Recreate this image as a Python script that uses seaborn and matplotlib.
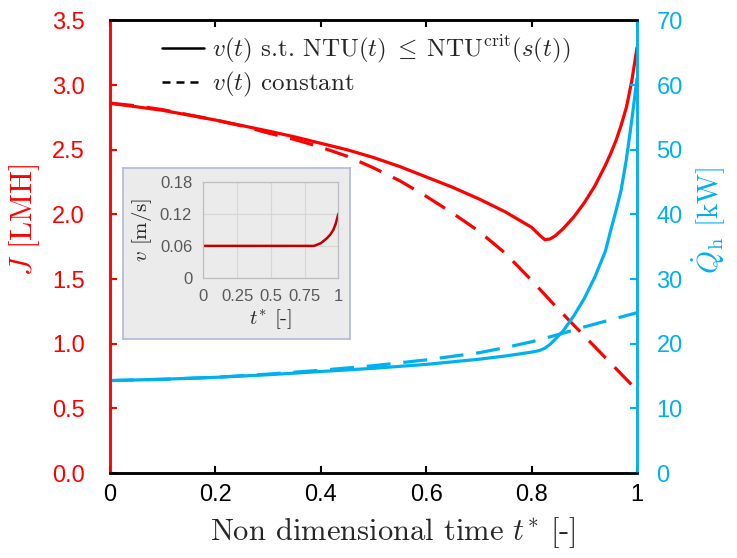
import numpy as np
import seaborn as sns
from matplotlib import pyplot as plt
from matplotlib.lines import Line2D

# データ
t_ctrl = [0, 0.1, 0.2, 0.3, 0.35, 0.4, 0.45, 0.5, 0.55, 0.6, 0.65, 0.7, 0.75, 0.8,
          0.815, 0.825, 0.835, 0.845, 0.86, 0.88, 0.9, 0.92, 0.94, 0.95, 0.96, 0.97,
          0.98, 0.99, 1.0]
J_ctrl = [2.86, 2.805, 2.73, 2.645, 2.60, 2.55, 2.50, 2.44, 2.37, 2.29, 2.21, 2.12, 2.02, 1.90,
          1.84, 1.805, 1.81, 1.835, 1.89, 1.98, 2.09, 2.22, 2.38, 2.47, 2.57, 2.69,
          2.83, 3.03, 3.29]
Q_ctrl = [14.3, 14.5, 14.8, 15.2, 15.45, 15.7, 15.95, 16.2, 16.5, 16.8, 17.2, 17.6, 18.1, 18.7,
          18.95, 19.3, 19.9, 20.7, 22.0, 24.3, 27.0, 30.3, 34.3, 37.5, 40.5, 43.8,
          48.6, 54.5, 61.0]

t_const = [0, 0.05, 0.1, 0.15, 0.2, 0.25, 0.3, 0.35, 0.4, 0.45, 0.5, 0.55, 0.6, 0.65,
           0.7, 0.75, 0.8, 0.85, 0.9, 0.95, 1.0]
J_const = [2.86, 2.84, 2.81, 2.77, 2.73, 2.685, 2.63, 2.58, 2.52, 2.45, 2.36, 2.26, 2.14, 2.01,
           1.87, 1.70, 1.49, 1.27, 1.06, 0.85, 0.64]
Q_const = [14.3, 14.4, 14.5, 14.65, 14.8, 15.05, 15.3, 15.6, 15.9, 16.25, 16.6, 17.05, 17.5, 18.05,
           18.6, 19.4, 20.3, 21.4, 22.6, 23.7, 24.8]

t_v = [0, 0.82, 0.87, 0.914, 0.94, 0.963, 0.98, 1.0]
v_val = [0.06, 0.06, 0.065, 0.074, 0.081, 0.09, 0.101, 0.12]

x_ticks = [0, 0.2, 0.4, 0.6, 0.8, 1.0]
x_labels = ['0', '0.2', '0.4', '0.6', '0.8', '1']
J_ticks = [0, 0.5, 1.0, 1.5, 2.0, 2.5, 3.0, 3.5]
Q_ticks = [0, 10, 20, 30, 40, 50, 60, 70]
ins_xticks = [0, 0.25, 0.5, 0.75, 1.0]
ins_xlabels = ['0', '0.25', '0.5', '0.75', '1']
ins_yticks = [0, 0.06, 0.12, 0.18]
ins_ylabels = ['0', '0.06', '0.12', '0.18']

RED = '#ff0000'
BLUE = '#00b0f0'
DARKRED = '#c00000'

sns.set_style('ticks')
plt.rcParams['font.family'] = ['Liberation Sans', 'DejaVu Sans']
plt.rcParams['mathtext.fontset'] = 'cm'
plt.rcParams['axes.unicode_minus'] = False

fig = plt.figure(figsize=(7.37, 5.58), dpi=100)
ax = fig.add_axes([0.1493, 0.1523, 0.715, 0.811])
ax2 = ax.twinx()

# 主グラフ
sns.lineplot(x=t_ctrl, y=J_ctrl, ax=ax, color=RED, lw=2.3)
sns.lineplot(x=t_const, y=J_const, ax=ax, color=RED, lw=2.3, linestyle='--')
ax.lines[-1].set_dashes((7.5, 4))
sns.lineplot(x=t_ctrl, y=Q_ctrl, ax=ax2, color=BLUE, lw=2.3)
sns.lineplot(x=t_const, y=Q_const, ax=ax2, color=BLUE, lw=2.3, linestyle='--')
ax2.lines[-1].set_dashes((7.5, 4))

ax.set_xlim(0, 1)
ax.set_ylim(0, 3.5)
ax2.set_ylim(0, 70)
ax.set_xticks(x_ticks, x_labels)
ax.set_yticks(J_ticks, [f'{v:.1f}' for v in J_ticks])
ax2.set_yticks(Q_ticks, [str(v) for v in Q_ticks])

ax.tick_params(axis='x', top=True, bottom=True, direction='in', length=5, width=1.5,
               colors='black', labelsize=17, pad=8)
ax.tick_params(axis='y', left=True, direction='in', length=5, width=1.5,
               colors=RED, labelsize=17, pad=18)
ax2.tick_params(axis='y', right=True, direction='in', length=5, width=1.5,
                colors=BLUE, labelsize=17, pad=14)

for a in (ax, ax2):
    a.spines['top'].set_color('black')
    a.spines['bottom'].set_color('black')
    a.spines['left'].set_color(RED)
    a.spines['right'].set_color(BLUE)
    for s in a.spines.values():
        s.set_linewidth(1.8)

ax.set_xlabel('Non dimensional time $t^{*}$ [-]', family='cmr10', fontsize=22)
ax.xaxis.set_label_coords(0.536, -0.093)
ax.set_ylabel('$J$ [LMH]', family='cmr10', fontsize=22, color=RED)
ax.yaxis.set_label_coords(-0.129, 0.559)
ax2.set_ylabel(r'$\dot{Q}_{\mathrm{h}}$ [kW]', family='cmr10', fontsize=21, color=BLUE)
ax2.yaxis.set_label_coords(1.099, 0.559)

# 凡例
handles = [Line2D([], [], color='black', lw=1.8),
           Line2D([], [], color='black', lw=1.8, dashes=(3.2, 2.4))]
labels = [r'$v(t)$ s.t. $\mathrm{NTU}(t)\;\leq\;\mathrm{NTU}^{\mathrm{crit}}(s(t))$',
          r'$v(t)$ constant']
ax2.legend(handles, labels, loc='upper left', bbox_to_anchor=(0.22, 0.94),
           bbox_transform=fig.transFigure, frameon=False,
           prop={'family': 'cmr10', 'size': 18}, handlelength=1.68,
           handletextpad=0.32, labelspacing=0.2, borderpad=0, borderaxespad=0)

# インセット
bg = fig.add_axes([0.1669, 0.3925, 0.308, 0.3065])
bg.set_facecolor('#ebebeb')
bg.set_xticks([])
bg.set_yticks([])
for s in bg.spines.values():
    s.set_color('#b0b8d8')
    s.set_linewidth(1.2)

ins = fig.add_axes([0.2759, 0.5018, 0.1832, 0.1726])
ins.set_facecolor('#ebebeb')
sns.lineplot(x=t_v, y=v_val, ax=ins, color=DARKRED, lw=1.8)
ins.set_xlim(0, 1)
ins.set_ylim(0, 0.18)
ins.set_xticks(ins_xticks, ins_xlabels)
ins.set_yticks(ins_yticks, ins_ylabels)
ins.grid(True, color='#d6d6d6', lw=0.8)
ins.tick_params(length=0, labelsize=12, labelcolor='#595959', pad=8)
for s in ins.spines.values():
    s.set_color('#bdbdbd')
    s.set_linewidth(0.9)
ins.set_xlabel('$t^{*}$ [-]', family='cmr10', fontsize=15, labelpad=2)
ins.set_ylabel('$v$ [m/s]', family='cmr10', fontsize=15, labelpad=4)

fig.savefig('out.png', dpi=100)
